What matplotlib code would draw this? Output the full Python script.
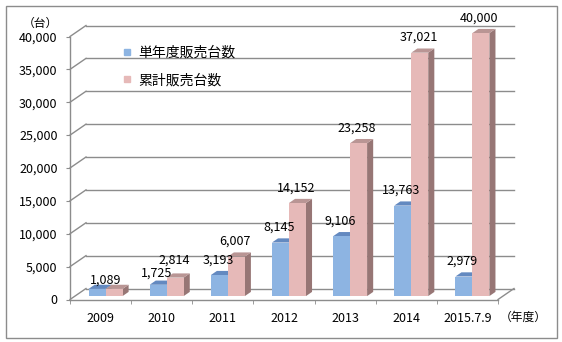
import matplotlib

matplotlib.use("Agg")
import matplotlib.pyplot as plt
from matplotlib.lines import Line2D
from matplotlib.patches import Polygon, Rectangle
from matplotlib.ticker import FuncFormatter

# sales figures (units)
years = ["2009", "2010", "2011", "2012", "2013", "2014", "2015.7.9"]
single = [1089, 1725, 3193, 8145, 9106, 13763, 2979]
cumulative = [1089, 2814, 6007, 14152, 23258, 37021, 40000]
series_names = ["単年度販売台数", "累計販売台数"]
y_ticks = [0, 5000, 10000, 15000, 20000, 25000, 30000, 35000, 40000]

plt.rcParams["font.family"] = ["Noto Sans CJK JP", "DejaVu Sans"]

W, H = 562, 342
fig = plt.figure(figsize=(W / 100, H / 100), dpi=100)

# front plane of the pseudo-3D plot, in pixels, plus the depth offset
X0, X1 = 70, 498
Y0, YT = 299.5, 36.5
DXP, DYP = 16, 11
n = len(years)
ymax = y_ticks[-1]
px_per_cat = (X1 - X0) / n
px_per_val = (Y0 - YT) / ymax
DX = DXP / px_per_cat
DY = DYP / px_per_val

ax = fig.add_axes([X0 / W, (H - Y0) / H, (X1 + DXP - X0) / W, (Y0 - YT + DYP) / H])
ax.set_xlim(-0.5, n - 0.5 + DX)
ax.set_ylim(0, ymax + DY)
for sp in ax.spines.values():
    sp.set_visible(False)

GRID = "#8c8c8c"
line_kw = dict(color=GRID, lw=1, clip_on=False, zorder=1)

# back wall gridlines and the slanted links to the front axis
for v in y_ticks:
    ax.plot([-0.5 + DX, n - 0.5 + DX], [v + DY, v + DY], **line_kw)
    ax.plot([-0.5, -0.5 + DX], [v, v + DY], **line_kw)
# front axis and floor outline
ax.plot([-0.5, -0.5], [0, ymax], **line_kw)
ax.plot([-0.5, n - 0.5], [0, 0], **line_kw)
ax.plot([n - 0.5, n - 0.5 + DX], [0, DY], **line_kw)

# bar colours: front, top, side
colors = [
    ("#8db4e2", "#6389c0", "#55759f"),
    ("#e6b9b8", "#b99594", "#977675"),
]
BAR_W = 0.278
F0, F1 = 0.31, 0.69

# label lift in points; a few are nudged so neighbouring labels don't collide
LABEL_DY = 11
label_nudge = {(0, 1): 6, (1, 0): 8, (1, 1): 12.5}


def proj(x, v, d):
    return x + d * DX, v + d * DY


def draw_bar(x0, x1, v, cols):
    front, top, side = cols
    ax.add_patch(Polygon([proj(x1, 0, F0), proj(x1, 0, F1), proj(x1, v, F1), proj(x1, v, F0)],
                         closed=True, fc=side, ec="none", zorder=2))
    ax.add_patch(Polygon([proj(x0, v, F0), proj(x1, v, F0), proj(x1, v, F1), proj(x0, v, F1)],
                         closed=True, fc=top, ec="none", zorder=2))
    ax.add_patch(Polygon([proj(x0, 0, F0), proj(x1, 0, F0), proj(x1, v, F0), proj(x0, v, F0)],
                         closed=True, fc=front, ec="none", zorder=2))


def label(x, v, dy):
    ax.annotate(f"{v:,}", proj(x, v, F0), xytext=(-1, dy), textcoords="offset points",
                ha="center", va="center", fontsize=9, zorder=5)


for i, (s, c) in enumerate(zip(single, cumulative)):
    for j, v in enumerate([s, c]):
        x0 = i - BAR_W + j * BAR_W
        draw_bar(x0, x0 + BAR_W, v, colors[j])
    if s == c:
        label(i + 0.03, c, label_nudge.get((i, 1), LABEL_DY))
    else:
        label(i - BAR_W / 2, s, label_nudge.get((i, 0), LABEL_DY))
        label(i + BAR_W / 2, c, label_nudge.get((i, 1), LABEL_DY))

ax.set_yticks(y_ticks)
ax.yaxis.set_major_formatter(FuncFormatter(lambda v, _: f"{int(v):,}"))
ax.tick_params(axis="y", length=3, color=GRID, pad=6, labelsize=9)
ax.set_xticks(range(n))
ax.set_xticklabels(years)
ax.set_xticks([k - 0.5 for k in range(n + 1)], minor=True)
ax.tick_params(axis="x", which="major", length=0, pad=9, labelsize=9)
ax.tick_params(axis="x", which="minor", length=3, color=GRID)

handles = [Line2D([], [], ls="none", marker="s", markersize=4.5, color=colors[k][0]) for k in range(2)]
ax.legend(handles, series_names, loc="upper left", bbox_to_anchor=(123 / W, 1 - 46 / H),
          bbox_transform=fig.transFigure, frameon=False, fontsize=10, handlelength=0.6,
          handletextpad=0.5, labelspacing=0.95, borderpad=0, borderaxespad=0)

fig.text(40 / W, 1 - 23 / H, "（台）", ha="center", va="center", fontsize=8.5)
fig.text(523 / W, 1 - 317 / H, "（年度）", ha="center", va="center", fontsize=8.5)

fig.patches.append(Rectangle((6 / W, 1 - 338 / H), 551 / W, 332 / H, transform=fig.transFigure,
                             fill=False, ec="#8c8c8c", lw=1))

fig.savefig("out.png", dpi=100)
